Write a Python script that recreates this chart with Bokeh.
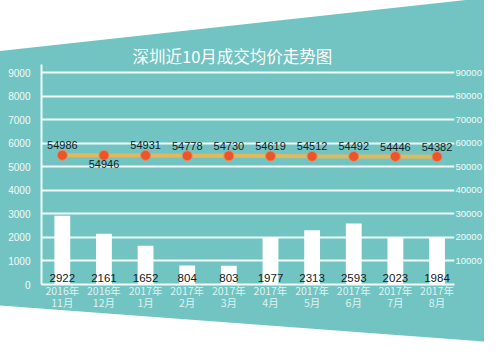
from urllib.parse import quote
from bokeh.plotting import figure
from bokeh.models import Range1d, LinearAxis, FixedTicker, ColumnDataSource
from bokeh.core.properties import value
from bokeh.embed import file_html
from bokeh.resources import INLINE

# ---- data ----
months = ["2016年\n11月", "2016年\n12月", "2017年\n1月", "2017年\n2月", "2017年\n3月",
          "2017年\n4月", "2017年\n5月", "2017年\n6月", "2017年\n7月", "2017年\n8月"]
volumes = [2922, 2161, 1652, 804, 803, 1977, 2313, 2593, 2023, 1984]
prices = [54986, 54946, 54931, 54778, 54730, 54619, 54512, 54492, 54446, 54382]
label_below = [False, True, False, False, False, False, False, False, False, False]
left_ticks = [0, 1000, 2000, 3000, 4000, 5000, 6000, 7000, 8000, 9000]
right_ticks = [10000, 20000, 30000, 40000, 50000, 60000, 70000, 80000, 90000]
title_text = "深圳近10月成交均价走势图"

TEAL = "#72c4c3"
W, H = 484, 348

# decorative background: teal with white diagonal bands top and bottom
bg_svg = (f"<svg xmlns='http://www.w3.org/2000/svg' width='{W}' height='{H}'>"
          f"<rect x='0' y='0' width='{W}' height='{H}' fill='{TEAL}'/>"
          f"<polygon points='0,0 {W},0 {W},-2 0,51' fill='white'/>"
          f"<polygon points='0,305.6 {W},341.4 {W},{H} 0,{H}' fill='white'/></svg>")
bg_css = 'url("data:image/svg+xml,' + quote(bg_svg) + '")'

x = list(range(len(months)))
p = figure(width=W, height=H, output_backend="svg", toolbar_location=None,
           x_range=Range1d(-0.5, 9.42), y_range=Range1d(0, 9360),
           min_border_left=41, min_border_right=26, min_border_top=64, min_border_bottom=64,
           styles={"background-image": bg_css, "background-size": "100% 100%",
                   "background-color": TEAL})
p.background_fill_alpha = 0
p.border_fill_alpha = 0
p.outline_line_color = None
p.extra_y_ranges = {"price": Range1d(0, 93600)}

# title
p.title.text = title_text
p.title.align = "left"
p.title.offset = 91
p.title.standoff = -6
p.title.text_color = "white"
p.title.text_font = "Noto Sans CJK SC"
p.title.text_font_size = "16.5px"
p.title.text_font_style = "normal"

# axes
p.xaxis.ticker = FixedTicker(ticks=x)
p.xaxis.major_label_overrides = {i: m for i, m in enumerate(months)}
p.xaxis.major_label_text_color = "#dff3f1"
p.xaxis.major_label_text_font = "Noto Sans CJK SC"
p.xaxis.major_label_text_font_size = "10.5px"
p.xaxis.major_label_text_line_height = 0.8
p.xaxis.major_label_standoff = -2
p.xaxis.axis_line_color = "#f2fbfa"
p.xaxis.axis_line_width = 2
p.xaxis.major_tick_line_color = None
p.xaxis.minor_tick_line_color = None
p.xaxis.major_tick_out = 0
p.xaxis.major_tick_in = 0

p.yaxis.ticker = FixedTicker(ticks=left_ticks)
p.yaxis.major_label_text_color = "#f2fbfa"
p.yaxis.major_label_text_font = "Liberation Sans"
p.yaxis.major_label_text_font_size = "10px"
p.yaxis.major_label_standoff = 11
p.yaxis.axis_line_color = "#f2fbfa"
p.yaxis.axis_line_width = 2
p.yaxis.major_tick_line_color = None
p.yaxis.minor_tick_line_color = None
p.yaxis.major_tick_out = 0
p.yaxis.major_tick_in = 0

ra = LinearAxis(y_range_name="price", ticker=FixedTicker(ticks=right_ticks))
ra.axis_line_color = None
ra.major_tick_line_color = None
ra.minor_tick_line_color = None
ra.major_tick_out = 0
ra.major_tick_in = 0
ra.major_label_text_color = "#f2fbfa"
ra.major_label_text_font = "Liberation Sans"
ra.major_label_text_font_size = "9.5px"
ra.major_label_standoff = 1
p.add_layout(ra, "right")

p.xgrid.grid_line_color = None
p.ygrid.grid_line_color = "#f2fbfa"
p.ygrid.grid_line_width = 2
p.ygrid.ticker = FixedTicker(ticks=left_ticks[1:])

# bars
src = ColumnDataSource(dict(x=x, v=volumes, vt=[str(v) for v in volumes]))
p.vbar(x="x", top="v", width=0.38, source=src, fill_color="white", line_color=None)
p.text(x="x", y=0, text="vt", source=src, text_align="center", text_baseline="bottom",
       y_offset=-3, text_font=value("Liberation Sans"), text_font_size="11.5px", text_color="#151c1c")

# price line
p.line(x, prices, y_range_name="price", line_color="#e3b858", line_width=4)
p.scatter(x, prices, y_range_name="price", size=10, fill_color="#ea552a",
          line_color="#f08a5a", line_width=1)
above = [i for i in x if not label_below[i]]
below = [i for i in x if label_below[i]]
p.text(x=above, y=[prices[i] for i in above], text=[str(prices[i]) for i in above],
       y_range_name="price", text_align="center", text_baseline="bottom", y_offset=-6,
       text_font=value("Liberation Sans"), text_font_size="11px", text_color="#15201f")
p.text(x=below, y=[prices[i] for i in below], text=[str(prices[i]) for i in below],
       y_range_name="price", text_align="center", text_baseline="top", y_offset=5,
       text_font=value("Liberation Sans"), text_font_size="11px", text_color="#15201f")

open("out.html", "w").write(file_html(p, INLINE))
